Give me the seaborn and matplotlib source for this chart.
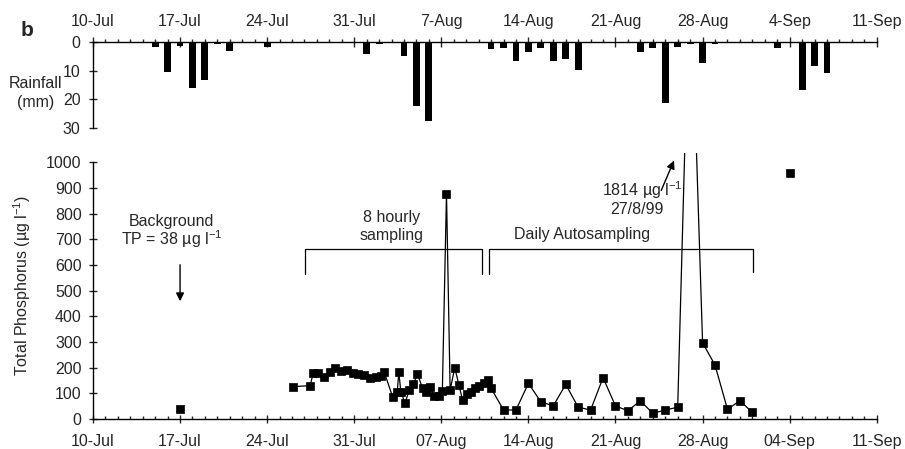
import numpy as np
import pandas as pd
import matplotlib
matplotlib.use("Agg")
import matplotlib.pyplot as plt
import matplotlib.dates as mdates
from matplotlib.ticker import FixedLocator, FuncFormatter
import seaborn as sns

# ---------------- data ----------------
rain_dates = ["1999-07-15", "1999-07-16", "1999-07-17", "1999-07-18", "1999-07-19",
              "1999-07-20", "1999-07-21", "1999-07-23", "1999-07-24", "1999-08-01",
              "1999-08-02", "1999-08-04", "1999-08-05", "1999-08-06", "1999-08-11",
              "1999-08-12", "1999-08-13", "1999-08-14", "1999-08-15", "1999-08-16",
              "1999-08-17", "1999-08-18", "1999-08-23", "1999-08-24", "1999-08-25",
              "1999-08-26", "1999-08-27", "1999-08-28", "1999-08-29", "1999-09-03",
              "1999-09-05", "1999-09-06", "1999-09-07"]
rain_mm = [1.5, 10.3, 1.3, 15.9, 13.2, 0.7, 2.9, 0.4, 1.6, 4.0,
           0.5, 4.8, 22.3, 27.4, 2.3, 1.9, 6.4, 3.5, 1.9, 6.4,
           6.0, 9.6, 3.3, 1.9, 21.1, 1.5, 0.5, 7.1, 0.5, 2.0,
           16.7, 8.4, 10.7]

hourly_times = ["1999-07-26 01:00", "1999-07-27 11:00", "1999-07-27 17:00", "1999-07-28 02:00",
                "1999-07-28 14:00", "1999-07-29 01:00", "1999-07-29 11:00", "1999-07-29 22:00",
                "1999-07-30 11:00", "1999-07-30 22:00", "1999-07-31 07:00", "1999-07-31 19:00",
                "1999-08-01 07:00", "1999-08-01 18:00", "1999-08-02 04:00", "1999-08-02 10:00",
                "1999-08-03 02:00", "1999-08-03 11:00", "1999-08-03 14:00", "1999-08-03 18:00",
                "1999-08-04 02:00", "1999-08-04 10:00", "1999-08-04 18:00", "1999-08-05 02:00",
                "1999-08-05 12:00", "1999-08-05 18:00", "1999-08-06 02:00", "1999-08-06 10:00",
                "1999-08-06 19:00", "1999-08-07 02:00", "1999-08-07 10:00", "1999-08-07 17:00",
                "1999-08-08 02:00", "1999-08-08 10:00", "1999-08-08 17:00", "1999-08-09 02:00",
                "1999-08-09 10:00", "1999-08-09 17:00", "1999-08-10 01:00", "1999-08-10 10:00",
                "1999-08-10 19:00", "1999-08-11 00:00"]
hourly_tp = [126, 130, 180, 178, 165, 184, 197, 187, 191, 178, 175, 171,
             161, 165, 168, 182, 87, 106, 182, 106, 61, 113, 136, 174,
             120, 106, 126, 90, 90, 109, 878, 113, 200, 132, 74, 97,
             106, 120, 130, 139, 152, 120]

daily_dates = ["1999-08-12", "1999-08-13", "1999-08-14", "1999-08-15", "1999-08-16",
               "1999-08-17", "1999-08-18", "1999-08-19", "1999-08-20", "1999-08-21",
               "1999-08-22", "1999-08-23", "1999-08-24", "1999-08-25", "1999-08-26",
               "1999-08-27", "1999-08-28", "1999-08-29", "1999-08-30", "1999-08-31",
               "1999-09-01"]
daily_tp = [35, 35, 139, 67, 51, 135, 46, 35, 161, 51,
            32, 71, 22, 35, 46, 1814, 297, 210, 38, 71, 26]

single_dates = ["1999-07-17", "1999-09-04"]
single_tp = [38, 960]

week_ticks = pd.date_range("1999-07-10", "1999-09-11", freq="7D")
day_ticks = pd.date_range("1999-07-10", "1999-09-11", freq="1D")

# ---------------- style ----------------
sns.set_style("ticks")
plt.rcParams["font.family"] = ["Liberation Sans", "DejaVu Sans"]
plt.rcParams["mathtext.default"] = "regular"
plt.rcParams["font.size"] = 11.5
FS = 11.5


def num(d):
    return mdates.date2num(pd.to_datetime(d))


x0, x1 = num("1999-07-10"), num("1999-09-11")

fig = plt.figure(figsize=(9.05, 4.49), dpi=100)
ax_top = fig.add_axes([0.1027, 0.7149, 0.8661, 0.1909])
ax = fig.add_axes([0.1027, 0.0668, 0.8661, 0.5929])

# ---------------- rainfall panel ----------------
rain_df = pd.DataFrame({"x": num(rain_dates), "mm": rain_mm})
sns.barplot(data=rain_df, x="x", y="mm", native_scale=True, color="black",
            saturation=1, width=0.55, errorbar=None, ax=ax_top, linewidth=0)
ax_top.set_xlim(x0, x1)
ax_top.set_ylim(30, 0)
ax_top.set_xlabel("")
ax_top.set_ylabel("")
ax_top.xaxis.tick_top()
ax_top.xaxis.set_major_locator(FixedLocator(num(week_ticks)))
ax_top.xaxis.set_minor_locator(FixedLocator(num(day_ticks)))
ax_top.xaxis.set_major_formatter(FuncFormatter(
    lambda v, p: f"{mdates.num2date(v).day}-{mdates.num2date(v).strftime('%b')}"))
ax_top.set_yticks([0, 10, 20, 30])
for s in ["bottom", "right"]:
    ax_top.spines[s].set_visible(False)
for s in ["top", "left"]:
    ax_top.spines[s].set_linewidth(1.0)
    ax_top.spines[s].set_color("black")
ax_top.tick_params(axis="x", which="major", direction="inout", length=7, width=1,
                   pad=6.0, labelsize=FS, top=True, bottom=False)
ax_top.tick_params(axis="x", which="minor", direction="out", length=2.3, width=1,
                   top=True, bottom=False)
ax_top.tick_params(axis="y", which="major", direction="inout", length=5.3, width=1,
                   pad=6.3, labelsize=FS)
ax_top.patch.set_alpha(0)

fig.text(36 / 905, 1 - 84 / 449, "Rainfall", ha="center", va="center", fontsize=FS)
fig.text(36 / 905, 1 - 102 / 449, "(mm)", ha="center", va="center", fontsize=FS)
fig.text(27 / 905, 1 - 30 / 449, "b", ha="center", va="center", fontsize=15,
         fontweight="bold")

# ---------------- total phosphorus panel ----------------
tp_df = pd.DataFrame({"x": np.concatenate([num(hourly_times), num(daily_dates)]),
                      "tp": hourly_tp + daily_tp})
sns.lineplot(data=tp_df, x="x", y="tp", color="black", linewidth=0.9, marker="s",
             markersize=5.6, markeredgecolor="black", markerfacecolor="black",
             markeredgewidth=0.5, ax=ax, estimator=None)
single_df = pd.DataFrame({"x": num(single_dates), "tp": single_tp})
sns.scatterplot(data=single_df, x="x", y="tp", color="black", marker="s", s=34,
                edgecolor="black", linewidth=0.5, ax=ax)

ax.set_xlim(x0, x1)
ax.set_ylim(0, 1037)
ax.set_xlabel("")
ax.set_ylabel("Total Phosphorus (µg l$^{-1}$)", fontsize=FS)
ax.yaxis.set_label_coords(-0.0764, 0.5)
ax.set_yticks(np.arange(0, 1001, 100))
ax.xaxis.set_major_locator(FixedLocator(num(week_ticks)))
ax.xaxis.set_minor_locator(FixedLocator(num(day_ticks)))
ax.xaxis.set_major_formatter(mdates.DateFormatter("%d-%b"))
ax.spines["top"].set_visible(False)
ax.spines["right"].set_visible(False)
ax.spines["left"].set_bounds(0, 1000)
for s in ["bottom", "left"]:
    ax.spines[s].set_linewidth(1.0)
    ax.spines[s].set_color("black")
ax.tick_params(axis="x", which="major", direction="inout", length=6, width=1,
               pad=7.5, labelsize=FS)
ax.tick_params(axis="x", which="minor", direction="in", length=2.3, width=1)
ax.tick_params(axis="y", which="major", direction="inout", length=5.3, width=1,
               pad=5.5, labelsize=FS)
ax.patch.set_alpha(0)

# ---------------- annotations ----------------
def dx(px):
    return x0 + (px - 92.9) / 12.44


def vy(py):
    return (419 - py) / 0.2567


ax.text(dx(171.5), vy(232), "Background\nTP = 38 µg l$^{-1}$", ha="center", va="center",
        fontsize=FS, linespacing=0.95)
ax.annotate("", xy=(dx(180), vy(304)), xytext=(dx(180), vy(262)),
            arrowprops=dict(arrowstyle="-|>", color="black", lw=1, mutation_scale=12))

ax.text(dx(391.7), vy(227), "8 hourly\nsampling", ha="center", va="center",
        fontsize=FS, linespacing=1.25)
ax.text(dx(581.7), vy(235), "Daily Autosampling", ha="center", va="center", fontsize=FS)

ax.text(dx(642), vy(190), "1814 µg l$^{-1}$", ha="center", va="center", fontsize=FS)
ax.text(dx(636.7), vy(210), "27/8/99", ha="center", va="center", fontsize=FS)
ax.annotate("", xy=(dx(675), vy(158)), xytext=(dx(660), vy(193)),
            arrowprops=dict(arrowstyle="-|>", color="black", lw=1, mutation_scale=12))

# brackets
for l, r, yr in [(305, 481.5, 274), (489.3, 753.3, 272)]:
    ax.plot([dx(l), dx(l), dx(r), dx(r)], [vy(274), vy(249.3), vy(249.3), vy(yr)],
            color="black", lw=0.9)

fig.savefig("out.png", dpi=100)
